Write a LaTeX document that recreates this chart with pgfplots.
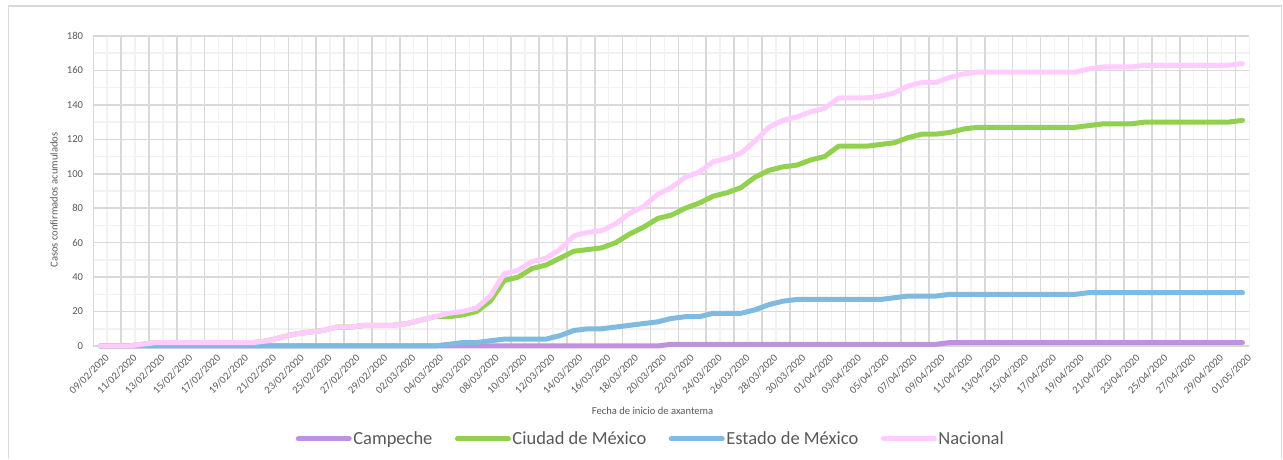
\documentclass[border=0pt]{standalone}
\usepackage{fontspec}
\setmainfont{Carlito}
\usepackage{pgfplots}
\usepackage{pgfplotstable}
\pgfplotsset{compat=1.18}
\definecolor{campc}{RGB}{191,145,222}
\definecolor{cdmxc}{RGB}{146,208,80}
\definecolor{edoc}{RGB}{127,186,224}
\definecolor{nacc}{RGB}{255,204,255}
\definecolor{gmaj}{RGB}{217,217,217}
\definecolor{gmin}{RGB}{242,242,242}
\definecolor{txt}{RGB}{89,89,89}
\definecolor{framec}{RGB}{217,217,217}

\pgfplotstableread{
i camp cdmx edo nac
0 0 0 0 0
1 0 0 0 0
2 0 0 0 0
3 0 1 0 1
4 0 2 0 2
5 0 2 0 2
6 0 2 0 2
7 0 2 0 2
8 0 2 0 2
9 0 2 0 2
10 0 2 0 2
11 0 2 0 2
12 0 3 0 3
13 0 5 0 5
14 0 7 0 7
15 0 8 0 8
16 0 9 0 9
17 0 11 0 11
18 0 11 0 11
19 0 12 0 12
20 0 12 0 12
21 0 12 0 12
22 0 13 0 13
23 0 15 0 15
24 0 17 0 17
25 0 17 1 19
26 0 18 2 20
27 0 20 2 22
28 0 26 3 29
29 0 38 4 42
30 0 40 4 44
31 0 45 4 49
32 0 47 4 51
33 0 51 6 56
34 0 55 9 64
35 0 56 10 66
36 0 57 10 67
37 0 60 11 71
38 0 65 12 77
39 0 69 13 81
40 0 74 14 88
41 1 76 16 92
42 1 80 17 98
43 1 83 17 101
44 1 87 19 107
45 1 89 19 109
46 1 92 19 112
47 1 98 21 119
48 1 102 24 127
49 1 104 26 131
50 1 105 27 133
51 1 108 27 136
52 1 110 27 138
53 1 116 27 144
54 1 116 27 144
55 1 116 27 144
56 1 117 27 145
57 1 118 28 147
58 1 121 29 151
59 1 123 29 153
60 1 123 29 153
61 2 124 30 156
62 2 126 30 158
63 2 127 30 159
64 2 127 30 159
65 2 127 30 159
66 2 127 30 159
67 2 127 30 159
68 2 127 30 159
69 2 127 30 159
70 2 127 30 159
71 2 128 31 161
72 2 129 31 162
73 2 129 31 162
74 2 129 31 162
75 2 130 31 163
76 2 130 31 163
77 2 130 31 163
78 2 130 31 163
79 2 130 31 163
80 2 130 31 163
81 2 130 31 163
82 2 131 31 164
}\datatable

\begin{document}
\begin{tikzpicture}[x=1bp,y=1bp]
\path (0,0) rectangle (1283,459);
\draw[framec, line width=1.5bp] (8.5,0) -- (8.5,453) -- (1281.5,453) -- (1281.5,0);
\begin{axis}[
  at={(93.3bp,113bp)}, anchor=south west,
  scale only axis, width=1156.2bp, height=310bp,
  xmin=-0.5, xmax=82.5, ymin=0, ymax=180,
  clip=false,
  axis line style={draw=none},
  major tick length=0pt, minor tick length=0pt,
  tick style={draw=none},
  /pgf/number format/assume math mode=true,
  xtick={0,2,...,82},
  xticklabels={09/02/2020,11/02/2020,13/02/2020,15/02/2020,17/02/2020,19/02/2020,21/02/2020,23/02/2020,25/02/2020,27/02/2020,29/02/2020,02/03/2020,04/03/2020,06/03/2020,08/03/2020,10/03/2020,12/03/2020,14/03/2020,16/03/2020,18/03/2020,20/03/2020,22/03/2020,24/03/2020,26/03/2020,28/03/2020,30/03/2020,01/04/2020,03/04/2020,05/04/2020,07/04/2020,09/04/2020,11/04/2020,13/04/2020,15/04/2020,17/04/2020,19/04/2020,21/04/2020,23/04/2020,25/04/2020,27/04/2020,29/04/2020,01/05/2020},
  xmajorgrids=false,
  extra x ticks={-0.5,1.5,...,81.5},
  extra x tick labels={},
  extra x tick style={xmajorgrids=true, ymajorgrids=false, yminorgrids=false},
  minor xtick={0.5,2.5,...,82.5},
  xminorgrids=true,
  ytick={0,20,...,180},
  minor ytick={10,30,...,170},
  ymajorgrids=true, yminorgrids=true,
  major grid style={draw=gmaj, line width=1.5bp},
  minor grid style={draw=gmin, line width=1.5bp},
  xticklabel style={rotate=45, anchor=east, inner sep=0pt, xshift=-2bp, yshift=-12bp, font=\fontsize{10.6bp}{12bp}\selectfont, text=txt},
  yticklabel style={anchor=east, inner sep=0pt, xshift=-10bp, font=\fontsize{10.6bp}{12bp}\selectfont, text=txt},
  xlabel={Fecha de inicio de axantema},
  xlabel style={at={(axis description cs:0.4837,-0.2097)}, anchor=center, font=\fontsize{10.6bp}{12bp}\selectfont, text=txt, inner sep=0pt},
  ylabel={Casos confirmados acumulados},
  ylabel style={at={(axis description cs:-0.034,0.471)}, anchor=center, font=\fontsize{10.6bp}{12bp}\selectfont, text=txt, inner sep=0pt},
  no markers,
  every axis plot/.append style={line width=5bp, line join=round, line cap=round},
  legend columns=4,
  legend style={at={(axis description cs:0.482,-0.3)}, anchor=center, draw=none, fill=none,
    font=\fontsize{18.5bp}{20bp}\selectfont, text=txt,
    nodes={inner sep=1.5bp},
    /tikz/every even column/.append style={column sep=21bp}},
  legend image code/.code={\draw[#1, line width=5bp, line cap=round] (2.5bp,0bp) -- (53.5bp,0bp);},
]
\addplot[draw=campc] table[x=i,y=camp]{\datatable};
\addlegendentry{Campeche}
\addplot[draw=cdmxc] table[x=i,y=cdmx]{\datatable};
\addlegendentry{Ciudad de México}
\addplot[draw=edoc] table[x=i,y=edo]{\datatable};
\addlegendentry{Estado de México}
\addplot[draw=nacc] table[x=i,y=nac]{\datatable};
\addlegendentry{Nacional}
\end{axis}
\end{tikzpicture}
\end{document}
